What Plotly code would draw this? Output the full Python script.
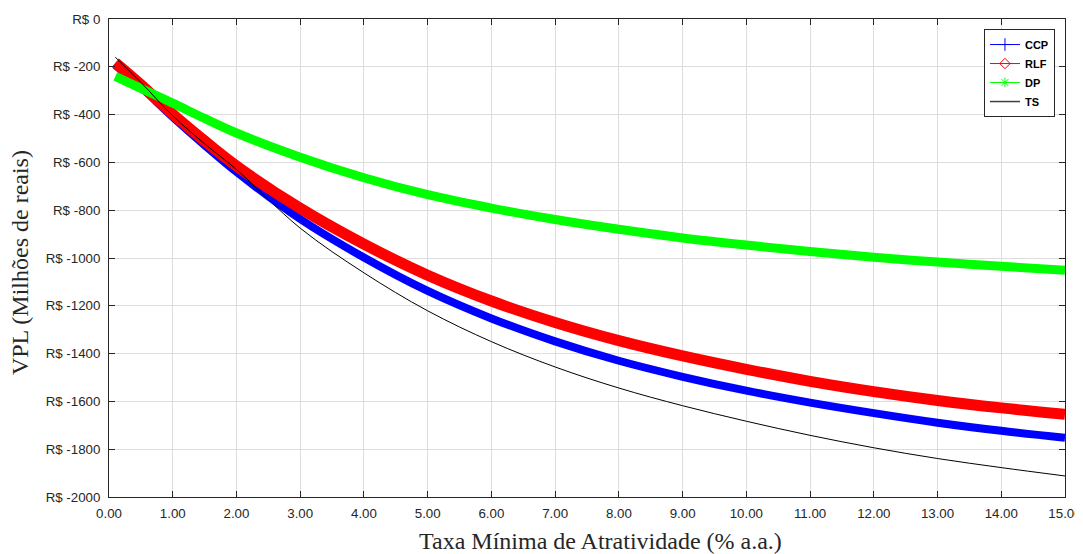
import plotly.graph_objects as go

# Taxa (% a.a.)
taxa = [0.1, 0.5, 1, 1.5, 2, 3, 4, 5, 6, 7, 8, 9, 10, 11, 12, 13, 14, 15]

ccp = [-193, -285, -410, -528, -640, -837, -998, -1138, -1253, -1349, -1430, -1497,
       -1555, -1605, -1649, -1689, -1723, -1752]
rlf = [-183, -275, -398, -510, -615, -792, -942, -1072, -1180, -1270, -1346, -1410,
       -1466, -1516, -1559, -1596, -1627, -1654]
dp = [-240, -290, -352, -416, -477, -578, -664, -735, -791, -839, -880, -916,
      -946, -973, -997, -1017, -1035, -1051]
ts = [-160, -265, -405, -522, -630, -875, -1062, -1221, -1350, -1456, -1544, -1618,
      -1683, -1742, -1794, -1839, -1877, -1912]

series = [
    ("CCP", ccp, "#0000ff", 8, "cross-thin-open", 9),
    ("RLF", rlf, "#ff0000", 11, "diamond-open", 8),
    ("DP", dp, "#00ff00", 9, "asterisk-open", 8),
    ("TS", ts, "#000000", 1, None, 0),
]

ytick_vals = list(range(0, -2001, -200))
ytick_text = [f"R$ {v}" for v in ytick_vals]
xtick_vals = list(range(0, 16))
xtick_text = [f"{v:.2f}" for v in xtick_vals]

x_title = "Taxa Mínima de Atratividade (% a.a.)"
y_title = "VPL (Milhões de reais)"

fig = go.Figure()

# curves
for name, vals, color, w, sym, ms in series:
    fig.add_trace(go.Scatter(
        x=taxa, y=vals, mode="lines", name=name, showlegend=False,
        line=dict(color=color, width=w, shape="spline", smoothing=1.0),
        hoverinfo="x+y",
    ))

# legend entries
for name, vals, color, w, sym, ms in series:
    if sym:
        fig.add_trace(go.Scatter(
            x=[None], y=[None], mode="lines+markers", name=name,
            line=dict(color=color, width=1),
            marker=dict(symbol=sym, size=ms, color=color, line=dict(color=color, width=1)),
        ))
    else:
        fig.add_trace(go.Scatter(
            x=[None], y=[None], mode="lines", name=name,
            line=dict(color="#404040", width=1.5),
        ))

axis_common = dict(
    showline=True, linecolor="#262626", linewidth=1, mirror="ticks",
    ticks="inside", ticklen=6, tickcolor="#262626",
    showgrid=True, gridcolor="#dedede", gridwidth=1, zeroline=False,
    automargin=False,
    tickfont=dict(family="Liberation Sans, Arial", size=13.3, color="#262626"),
)

title_font = dict(family="Liberation Serif, Times New Roman", size=24, color="#262626")

# page body has an 8px default margin, so the figure is sized to fit inside the window
fig.update_layout(
    width=1075, height=546,
    margin=dict(l=101, r=18, t=11, b=57),
    paper_bgcolor="white", plot_bgcolor="white",
    xaxis=dict(range=[0, 15], tickvals=xtick_vals, ticktext=xtick_text,
               ticklabelstandoff=4, **axis_common),
    yaxis=dict(range=[-2000, 0], tickvals=ytick_vals, ticktext=ytick_text,
               ticklabelstandoff=5, **axis_common),
    legend=dict(x=0.9895, y=0.979, xanchor="right", yanchor="top",
                bgcolor="white", bordercolor="#262626", borderwidth=1,
                font=dict(family="Liberation Sans, Arial", size=11, color="#000000", weight="bold"),
                tracegroupgap=0, itemwidth=30),
    showlegend=True,
    annotations=[
        dict(text=x_title, xref="paper", yref="paper", x=0.5136, y=-0.092,
             xanchor="center", yanchor="middle", showarrow=False, font=title_font),
        dict(text=y_title, xref="paper", yref="paper", x=-0.093, y=0.4895,
             xanchor="center", yanchor="middle", textangle=-90, showarrow=False, font=title_font),
    ],
)

fig.write_html("out.html")
